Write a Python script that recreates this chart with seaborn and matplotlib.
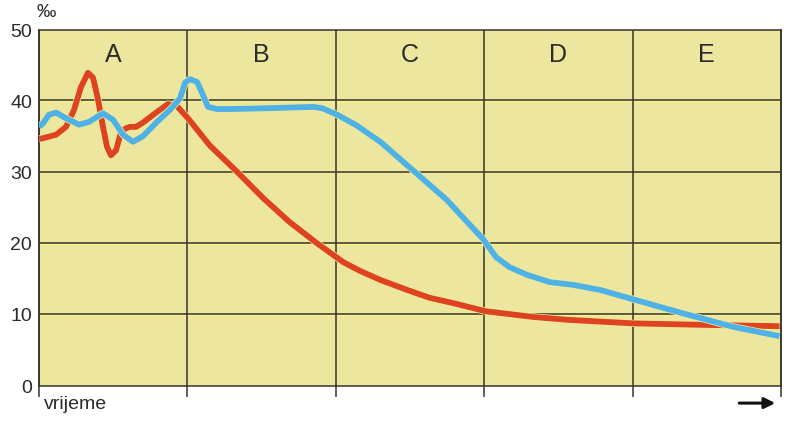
import numpy as np
import pandas as pd
import seaborn as sns
import matplotlib.pyplot as plt
import matplotlib.patheffects as pe

# sections of the time axis
sections = ["A", "B", "C", "D", "E"]

# red curve (time in section units, value in per mille)
red_x = [0.000, 0.027, 0.115, 0.182, 0.236, 0.283, 0.330, 0.364, 0.398, 0.431, 0.458,
         0.485, 0.519, 0.553, 0.586, 0.613, 0.654, 0.701, 0.795, 0.869, 0.930, 1.004,
         1.15, 1.334, 1.51, 1.69, 1.87, 2.05, 2.16, 2.30, 2.48, 2.63,
         2.80, 3.01, 3.33, 3.56, 4.00, 4.45, 4.99]
red_y = [34.7, 34.8, 35.3, 36.4, 38.8, 42.0, 44.0, 43.3, 40.2, 36.4, 33.6,
         32.4, 33.1, 35.7, 36.2, 36.4, 36.4, 37.0, 38.5, 39.6, 39.3, 37.6,
         33.8, 30.1, 26.4, 23.0, 20.1, 17.4, 16.2, 14.9, 13.5, 12.4,
         11.6, 10.5, 9.7, 9.3, 8.8, 8.6, 8.4]

# blue curve
blue_x = [0.000, 0.027, 0.067, 0.115, 0.182, 0.270, 0.337, 0.431, 0.499, 0.566, 0.633,
          0.701, 0.795, 0.883, 0.950, 0.984, 1.018, 1.065, 1.098, 1.139, 1.199, 1.287,
          1.51, 1.85, 1.91, 2.01, 2.14, 2.30, 2.41, 2.52, 2.75, 2.86, 2.99, 3.08,
          3.17, 3.29, 3.44, 3.60, 3.78, 4.00, 4.34, 4.68, 4.99]
blue_y = [36.4, 36.9, 38.1, 38.4, 37.6, 36.7, 37.1, 38.3, 37.4, 35.3, 34.3,
          35.1, 37.1, 38.8, 40.4, 42.6, 43.1, 42.7, 41.2, 39.2, 38.9, 38.9,
          39.0, 39.2, 39.0, 38.1, 36.6, 34.3, 32.3, 30.3, 26.1, 23.6, 20.7, 18.1,
          16.7, 15.6, 14.6, 14.2, 13.5, 12.2, 10.2, 8.3, 7.0]

y_ticks = [0, 10, 20, 30, 40, 50]

sns.set_style("white")
plt.rcParams['font.family'] = ['Liberation Sans', 'DejaVu Sans']

fig = plt.figure(figsize=(7.9, 4.24), dpi=100)
ax = fig.add_axes([0.0494, 0.0896, 0.9392, 0.8396])
ax.set_facecolor("#ede69f")

ax.set_xlim(0, 5)
ax.set_ylim(0, 50)

grid_c = "#35342c"
# horizontal grid lines
for v in y_ticks[1:-1]:
    ax.axhline(v, color="#faf38a", lw=1.0, zorder=1)
    ax.axhline(v + 0.12, color=grid_c, lw=1.1, zorder=1)
# vertical section lines, running a bit below the axis
for i in range(len(sections) + 1):
    ax.vlines(i, -1.55, 50, color=grid_c, lw=1.1, clip_on=False, zorder=1)

halo = [pe.Stroke(linewidth=5.2, foreground="#f4ec95"), pe.Normal()]
df_red = pd.DataFrame({"t": red_x, "v": red_y})
df_blue = pd.DataFrame({"t": blue_x, "v": blue_y})
sns.lineplot(data=df_red, x="t", y="v", ax=ax, color="#dd4320", lw=4.2,
             sort=False, estimator=None, zorder=3, path_effects=halo,
             solid_joinstyle="round", solid_capstyle="butt")
sns.lineplot(data=df_blue, x="t", y="v", ax=ax, color="#4fb2e6", lw=4.2,
             sort=False, estimator=None, zorder=4, path_effects=halo,
             solid_joinstyle="round", solid_capstyle="butt")

for i, s in enumerate(sections):
    ax.text(i + 0.5, 46.5, s, ha="center", va="center", fontsize=18, color="#2a2a2a")

for sp in ax.spines.values():
    sp.set_color(grid_c)
    sp.set_linewidth(1.1)

ax.set_yticks(y_ticks)
ax.set_yticklabels([str(t) for t in y_ticks], fontsize=14, color="#2a2a2a")
ax.tick_params(axis="y", length=0, pad=5)
ax.set_xticks([])
ax.set_xlabel("")
ax.set_ylabel("")

ax.text(-0.02, 52.5, "‰", fontsize=14, color="#2a2a2a", ha="left", va="center")
ax.text(0.03, -2.6, "vrijeme", fontsize=14, color="#2a2a2a", ha="left", va="center")
ax.annotate("", xy=(4.98, -2.4), xytext=(4.7, -2.4), annotation_clip=False,
            arrowprops=dict(arrowstyle="-|>", color="#111111", lw=2.2,
                            mutation_scale=16))

fig.savefig("out.png", dpi=100)
